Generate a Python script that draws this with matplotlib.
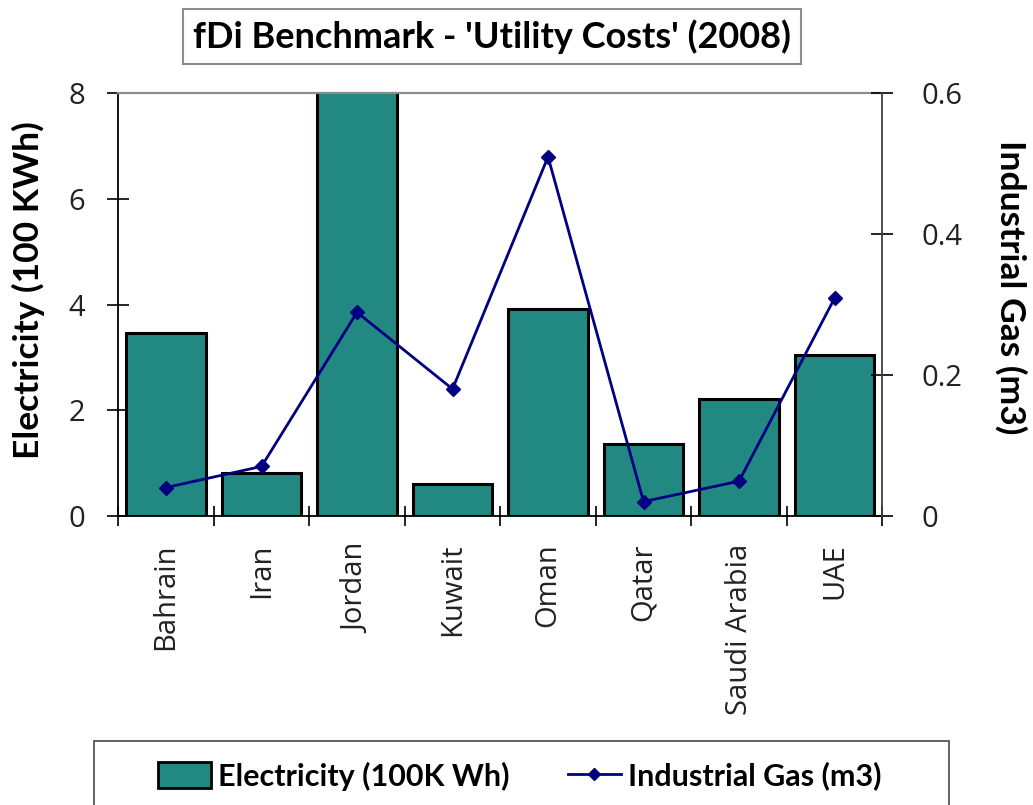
import matplotlib
matplotlib.use('Agg')
import matplotlib.pyplot as plt
from matplotlib.patches import Rectangle
from matplotlib.lines import Line2D
from matplotlib.patches import Patch

# utility costs per country
countries = ['Bahrain', 'Iran', 'Jordan', 'Kuwait', 'Oman', 'Qatar', 'Saudi Arabia', 'UAE']
electricity = [3.46, 0.80, 8.6, 0.60, 3.91, 1.36, 2.21, 3.04]
gas = [0.040, 0.070, 0.289, 0.180, 0.510, 0.020, 0.049, 0.309]
elec_ticks = [0, 2, 4, 6, 8]
gas_ticks = [0, 0.2, 0.4, 0.6]
gas_ticklabels = ['0', '0.2', '0.4', '0.6']

bar_color = '#218882'
line_color = '#000080'
tick_font = 'Open Sans'
label_font = 'Lato'

fig = plt.figure(figsize=(10.33, 8.05), dpi=100)
ax1 = fig.add_axes([0.1145, 0.3594, 0.7396, 0.5245])

x = list(range(len(countries)))
ax1.bar(x, electricity, width=0.833, color=bar_color, edgecolor='black', linewidth=2.2, zorder=2)
ax1.set_xlim(-0.5, len(countries) - 0.5)
ax1.set_ylim(0, 8)
ax1.set_yticks(elec_ticks)
ax1.set_yticklabels([str(t) for t in elec_ticks], fontsize=21, family=tick_font, color='#222222')
ax1.tick_params(axis='y', direction='inout', length=16, width=1.2, pad=16)

# category boundary ticks, names on minor ticks
ax1.set_xticks([i - 0.5 for i in range(len(countries) + 1)])
ax1.set_xticklabels([])
ax1.tick_params(axis='x', which='major', direction='inout', length=14, width=1.2)
ax1.set_xticks(x, minor=True)
ax1.set_xticklabels(countries, minor=True, rotation=90, fontsize=21, family=tick_font,
                    color='#222222', va='top')
ax1.tick_params(axis='x', which='minor', length=0, pad=20)

ax1.spines['left'].set_linewidth(1.3)
ax1.spines['bottom'].set_linewidth(1.3)
ax1.spines['top'].set_color('#8c8c8c')
ax1.spines['top'].set_linewidth(1.6)
ax1.spines['right'].set_visible(False)

ax1.set_ylabel('Electricity (100 KWh)', fontsize=25.5, fontweight='bold', family=label_font,
               va='center', ha='center')
ax1.yaxis.set_label_coords(-0.117, 0.535)

ax2 = ax1.twinx()
ax2.plot(x, gas, color=line_color, linewidth=2, marker='D', markersize=7.5, zorder=3)
ax2.set_ylim(0, 0.6)
ax2.set_yticks(gas_ticks)
ax2.set_yticklabels(gas_ticklabels, fontsize=21, family=tick_font, color='#222222')
ax2.tick_params(axis='y', direction='inout', length=16, width=1.2, pad=20)
for side in ['left', 'top', 'bottom']:
    ax2.spines[side].set_visible(False)
ax2.spines['right'].set_color('#404040')
ax2.spines['right'].set_linewidth(1.3)
ax2.set_ylabel('Industrial Gas (m3)', fontsize=25.5, fontweight='bold', family=label_font,
               rotation=270, va='center', ha='center')
ax2.yaxis.set_label_coords(1.168, 0.54)

# title in a box
fig.text(0.4765, 0.9547, "fDi Benchmark - 'Utility Costs' (2008)", fontsize=26,
         fontweight='bold', family=label_font, ha='center', va='center',
         bbox=dict(boxstyle='square,pad=0.27', fc='white', ec='#8c8c8c', lw=1.5))

# legend box running off the bottom edge
fig.patches.append(Rectangle((0.091, -0.05), 0.8277, 0.1295, transform=fig.transFigure,
                             fc='white', ec='#555555', lw=1.3))
handles = [Patch(facecolor=bar_color, edgecolor='black', linewidth=2),
           Line2D([], [], color=line_color, linewidth=2, marker='D', markersize=6)]
fig.legend(handles, ['Electricity (100K Wh)', 'Industrial Gas (m3)'], ncol=2,
           loc='center', bbox_to_anchor=(0.503, 0.036), frameon=False,
           prop={'family': label_font, 'weight': 'bold', 'size': 22},
           handlelength=1.75, handleheight=0.95, handletextpad=0.22, columnspacing=1.9)

fig.savefig('out.png', dpi=100)
